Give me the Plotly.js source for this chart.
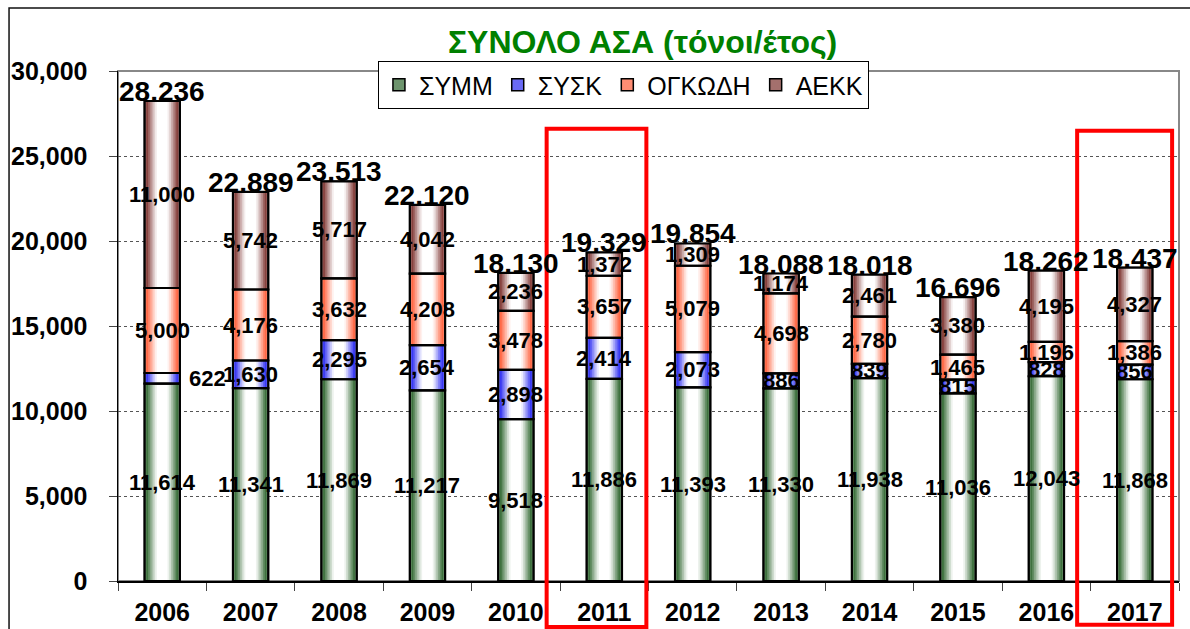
<!DOCTYPE html>
<html>
<head>
<meta charset="utf-8">
<script src="https://cdn.plot.ly/plotly-3.0.1.min.js"></script>
<style>html,body{margin:0;padding:0;background:#fff;}#chart{width:1190px;height:629px;}</style>
</head>
<body>
<div id="chart"></div>
<script>
// ---- data ----
const years = ['2006','2007','2008','2009','2010','2011','2012','2013','2014','2015','2016','2017'];
const symm  = [11614, 11341, 11869, 11217, 9518, 11886, 11393, 11330, 11938, 11036, 12043, 11868];
const sysk  = [622, 1630, 2295, 2654, 2898, 2414, 2073, 886, 839, 815, 828, 856];
const ogk   = [5000, 4176, 3632, 4208, 3478, 3657, 5079, 4698, 2780, 1465, 1196, 1386];
const aekk  = [11000, 5742, 5717, 4042, 2236, 1372, 1309, 1174, 2461, 3380, 4195, 4327];
const totals = [28236, 22889, 23513, 22120, 18130, 19329, 19854, 18088, 18018, 16696, 18262, 18437];
const seriesNames = ['ΣΥΜΜ', 'ΣΥΣΚ', 'ΟΓΚΩΔΗ', 'ΑΕΚΚ'];
const titleText = 'ΣΥΝΟΛΟ ΑΣΑ (τόνοι/έτος)';

// ---- styles ----
const FONT = 'Arial, "Liberation Sans", sans-serif';
const edgeColors = [[30,90,30],[25,25,240],[255,80,40],[115,35,30]];
const gradFrac = [1.0, 0.90, 0.80, 0.70, 0.60, 0.50, 0.40, 0.30];
const gradMix  = [0.0, 0.14, 0.30, 0.46, 0.62, 0.78, 0.92, 1.0];
const BARW = 0.40;
const labelXShift = {'1-0': 45};  // series 1 (ΣΥΣΚ), year index 0 moved aside

function mix(c, t) {
  const r = c.map(v => Math.round(v + (255 - v) * t));
  return 'rgb(' + r.join(',') + ')';
}
function fmtComma(v) { return v.toLocaleString('en-US'); }
function fmtDot(v) { return v.toLocaleString('en-US').replace(/,/g, '.'); }

const series = [symm, sysk, ogk, aekk];
const bases = [];
let run = years.map(() => 0);
series.forEach(s => { bases.push(run.slice()); run = run.map((b, i) => b + s[i]); });

const traces = [];
// darkest edge layer, full width
series.forEach((s, si) => {
  traces.push({
    type: 'bar', x: years, y: s, base: bases[si], width: BARW,
    showlegend: false, hoverinfo: 'skip',
    marker: { color: mix(edgeColors[si], 0), line: { width: 0 } }
  });
});
// gradient layers toward a white centre (first one carries the legend swatch)
gradFrac.forEach((f, li) => {
  series.forEach((s, si) => {
    traces.push({
      type: 'bar', x: years, y: s, base: bases[si], width: BARW * f,
      name: seriesNames[si], showlegend: li === 0,
      marker: { color: mix(edgeColors[si], li === 0 ? 0.35 : gradMix[li]),
                line: { color: '#000', width: li === 0 ? 1.5 : 0 } },
      hoverinfo: 'skip'
    });
  });
});
// black outlines on top
series.forEach((s, si) => {
  traces.push({
    type: 'bar', x: years, y: s, base: bases[si], width: BARW,
    showlegend: false, hoverinfo: 'skip',
    marker: { color: 'rgba(0,0,0,0)', line: { color: '#000', width: 2.2 } }
  });
});

// annotations on a category axis take the category index as x
const annotations = [];
series.forEach((s, si) => {
  s.forEach((v, i) => {
    annotations.push({
      x: i, y: bases[si][i] + v / 2, xref: 'x', yref: 'y',
      text: fmtComma(v), showarrow: false,
      xshift: labelXShift[si + '-' + i] || 0,
      font: { family: FONT, size: 22, color: '#000', weight: 700 }
    });
  });
});
totals.forEach((t, i) => {
  annotations.push({
    x: i, y: run[i], xref: 'x', yref: 'y', text: fmtDot(t),
    showarrow: false, yanchor: 'bottom', yshift: -8,
    font: { family: FONT, size: 28, color: '#000', weight: 700 }
  });
});

const shapes = [
  { type: 'rect', xref: 'paper', yref: 'paper', x0: 0, x1: 1, y0: 0, y1: 1,
    line: { color: '#888', width: 2 }, layer: 'below' },
  { type: 'rect', xref: 'paper', yref: 'paper', x0: -0.1027, x1: 1.03, y0: -0.3, y1: 1.1235,
    line: { color: '#111', width: 1.5 }, layer: 'below' },
  { type: 'rect', xref: 'paper', yref: 'paper', x0: 0.404, x1: 0.498, y0: -0.090, y1: 0.887,
    line: { color: '#ff0000', width: 4 } },
  { type: 'rect', xref: 'paper', yref: 'paper', x0: 0.904, x1: 0.9935, y0: -0.086, y1: 0.883,
    line: { color: '#ff0000', width: 4 } }
];

const layout = {
  width: 1190, height: 629,
  margin: { l: 118, r: 11, t: 71, b: 48 },
  paper_bgcolor: '#fff', plot_bgcolor: '#fff',
  barmode: 'overlay',
  hovermode: false,
  font: { family: FONT, color: '#000' },
  title: {
    text: titleText, xref: 'container', yref: 'container',
    x: 0.540, xanchor: 'center', y: 0.933, yanchor: 'middle',
    font: { family: FONT, size: 32, color: '#008000', weight: 700 }
  },
  xaxis: {
    type: 'category', categoryorder: 'array', categoryarray: years,
    range: [-0.5, years.length - 0.5], autorange: false,
    showline: true, linecolor: '#000', linewidth: 1.5,
    ticks: 'outside', tickson: 'boundaries', ticklen: 8, tickcolor: '#444',
    ticklabelstandoff: 8,
    tickfont: { family: FONT, size: 25, color: '#000', weight: 700 },
    showgrid: false, zeroline: false, fixedrange: true
  },
  yaxis: {
    range: [0, 30000], autorange: false, dtick: 5000, tickformat: ',',
    showline: true, linecolor: '#000', linewidth: 1.5,
    ticks: 'outside', ticklen: 8, tickcolor: '#444',
    ticklabelstandoff: 16,
    tickfont: { family: FONT, size: 25, color: '#000', weight: 700 },
    showgrid: true, gridcolor: '#555', griddash: 'dot', gridwidth: 1,
    zeroline: false, fixedrange: true
  },
  showlegend: true,
  legend: {
    orientation: 'h', xref: 'paper', yref: 'paper',
    x: 0.245, xanchor: 'left', y: 1.0196, yanchor: 'top',
    bgcolor: '#fff', bordercolor: '#000', borderwidth: 1,
    font: { family: FONT, size: 25, color: '#000' },
    traceorder: 'normal', itemclick: false, itemdoubleclick: false
  },
  annotations: annotations,
  shapes: shapes
};

Plotly.newPlot('chart', traces, layout, { staticPlot: true, displayModeBar: false });
</script>
</body>
</html>
